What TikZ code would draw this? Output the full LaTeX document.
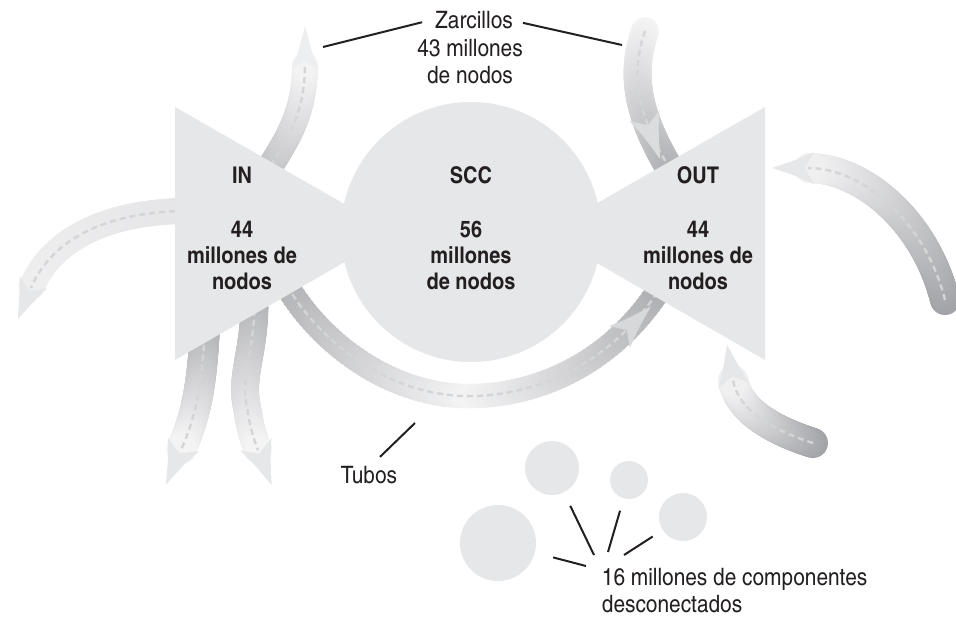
\documentclass[tikz,border=0pt]{standalone}
\usepackage{fontspec}
\setmainfont{texgyreheroscn}[Extension=.otf, UprightFont=*-regular, BoldFont=*-bold, ItalicFont=*-italic, BoldItalicFont=*-bolditalic, FakeStretch=1.06]
\usetikzlibrary{positioning,decorations.markings}
\definecolor{bowgray}{RGB}{230,231,232}
\definecolor{banddark}{RGB}{158,159,163}
\definecolor{bandlight}{RGB}{247,247,248}
\definecolor{dashgray}{RGB}{212,213,215}
\definecolor{inkblack}{RGB}{35,31,32}

\tikzset{
  bow/.style={fill=bowgray, draw=none},
  disc/.style={circle, fill=bowgray, inner sep=0pt, minimum size=#1},
  bigtext/.style={font=\bfseries\fontsize{23}{26}\selectfont, align=center, text=inkblack, inner sep=0pt},
  note/.style={font=\fontsize{24}{27.5}\selectfont, align=center, text=inkblack, inner sep=0pt},
  leader/.style={draw=inkblack, line width=2pt},
  band/.style n args={3}{postaction={decorate, decoration={markings,
      mark=between positions 0 and 1 step 0.01 with {%
        \pgfmathsetmacro\bandmix{#1+(#2-#1)*(\pgfkeysvalueof{/pgf/decoration/mark info/sequence number}-1)/100}%
        \fill[banddark!\bandmix!bandlight] (0,0) circle (#3);}}}},
  tubeband/.style n args={3}{postaction={decorate, decoration={markings,
      mark=between positions 0 and 1 step 0.01 with {%
        \pgfmathsetmacro\bandmix{#2+(#1-#2)*abs(2*(\pgfkeysvalueof{/pgf/decoration/mark info/sequence number}-1)/100-1)}%
        \fill[banddark!\bandmix!bandlight] (0,0) circle (#3);}}}},
  dashline/.style={postaction={draw=dashgray, line width=2.4pt, dash pattern=on 6pt off 4pt}},
  tiphead/.style n args={4}{postaction={decorate, decoration={markings,
      mark=at position #1 with {%
        \fill[#2] (-6pt,#3) .. controls (10pt,0.55*#3) .. (#4,0pt) .. controls (10pt,-0.55*#3) .. (-6pt,-#3) -- (4pt,0pt) -- cycle;}}}},
}

\begin{document}
\begin{tikzpicture}[x=1pt, y=-1pt]
  \useasboundingbox (0,0) rectangle (956,616);

  % tendrils and tube, drawn under the bow tie
  \path[band={80}{4}{13pt}, dashline, tiphead={0.999}{bowgray!70!white}{13.5pt}{38pt}]
    (250,200) .. controls (278,150) and (305,125) .. (305,64);
  \path[band={3}{85}{14pt}, dashline, tiphead={0.55}{bowgray!85!banddark}{16pt}{40pt}]
    (645,31) .. controls (628,80) and (640,125) .. (682,188);
  \path[band={22}{10}{13pt}, dashline, tiphead={0.999}{bowgray}{15pt}{34pt}]
    (205,211) .. controls (110,208) and (52,238) .. (31,288);
  \path[band={85}{4}{15pt}, dashline, tiphead={0.999}{bowgray}{17pt}{38pt}]
    (205,325) .. controls (202,390) and (195,418) .. (181,450);
  \path[band={85}{4}{14pt}, dashline, tiphead={0.999}{bowgray}{17pt}{38pt}]
    (254,290) .. controls (257,345) and (241,372) .. (246,402) .. controls (250,425) and (251,432) .. (258,450);
  \path[tubeband={85}{4}{12.5pt}, dashline, tiphead={0.85}{bowgray!80!banddark}{15pt}{38pt}]
    (278,268) .. controls (300,320) and (370,392) .. (462,396) .. controls (540,398) and (620,360) .. (668,275);
  \path[band={95}{8}{15pt}, dashline, tiphead={0.999}{bowgray}{16pt}{36pt}]
    (813,443) .. controls (772,430) and (738,410) .. (733,380);
  \path[band={95}{8}{15pt}, dashline, tiphead={0.999}{bowgray}{16pt}{36pt}]
    (945,300) .. controls (925,220) and (862,168) .. (808,168);

  % bow tie
  \fill[bow] (175,107) -- (175,360) -- (395,233) -- cycle;
  \fill[bow] (765,107) -- (765,360) -- (545,233) -- cycle;
  \node[disc=260pt] (scc) at (471,232) {};

  \node[bigtext] (intext) at (242,228) {IN\\[28pt]44\\millones de\\nodos};
  \node[bigtext] (scctext) at (471,228) {SCC\\[28pt]56\\millones\\de nodos};
  \node[bigtext] (outtext) at (698,228) {OUT\\[28pt]44\\millones de\\nodos};

  % disconnected pieces
  \node[disc=76pt] (d1) at (498,543) {};
  \node[disc=54pt] (d2) at (552,468) {};
  \node[disc=38pt] (d3) at (629,480) {};
  \node[disc=48pt] (d4) at (683,517) {};

  % labels
  \node[note, anchor=base] (zar) at (474,28.3) {Zarcillos};
  \node[note] (zarnum) at (470,61.4) {43 millones\\de nodos};
  \node[note, anchor=base] (tub) at (369,483.3) {Tubos};
  \node[note, anchor=base west] (comp) at (601.7,585) {16 millones de componentes};
  \node[note, anchor=base west] (compb) at ([yshift=-27.5pt]comp.base west) {desconectados};

  \coordinate (ulTag) at (323,47);
  \coordinate (urTag) at (622,45);
  \coordinate (tubeTag) at (415,423);
  \coordinate (h1) at (586,566);
  \coordinate (h2) at (594,555);
  \coordinate (h3) at (608,552);
  \coordinate (h4) at (624,555);

  \draw[leader] ([shift={(-13pt,-2.4pt)}]zar.west) -- (ulTag);
  \draw[leader] ([shift={(10pt,-3pt)}]zar.east) -- (urTag);
  \draw[leader] ([shift={(11pt,9pt)}]tub.north) -- (tubeTag);
  \draw[leader, shorten <=57pt] (d1.center) -- (h1);
  \draw[leader, shorten <=42pt] (d2.center) -- (h2);
  \draw[leader, shorten <=32pt] (d3.center) -- (h3);
  \draw[leader, shorten <=36pt] (d4.center) -- (h4);
\end{tikzpicture}
\end{document}
